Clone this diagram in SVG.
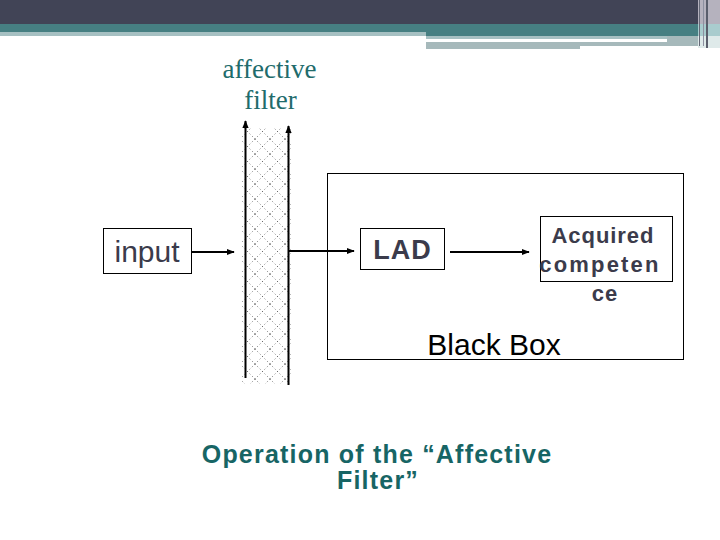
<svg xmlns="http://www.w3.org/2000/svg" width="720" height="540" viewBox="0 0 720 540">
<style>
.box{fill:#fff;stroke:#000;stroke-width:1}
.line{stroke:#000;stroke-width:2;fill:none}
.sans{font-family:"Liberation Sans",Arial,sans-serif}
.gray{fill:#3b3b4b}
</style>
<defs>
<marker id="ah" viewBox="0 0 10 10" refX="9" refY="5" markerWidth="4" markerHeight="4" orient="auto-start-reverse" markerUnits="strokeWidth">
<path d="M0,1 L10,5 L0,9 z" fill="#000"/>
</marker>
<pattern id="hatch" x="240" y="124" width="15" height="15" patternUnits="userSpaceOnUse">
<path d="M0,0 L15,15 M15,0 L0,15" stroke="#333" stroke-width="0.7" stroke-dasharray="1,2.4" fill="none"/>
</pattern>
</defs>
<rect width="720" height="540" fill="#fff"/>
<g id="header">
<rect x="0" y="0" width="720" height="24" fill="#414456"/>
<rect x="0" y="24" width="720" height="8" fill="#467f82"/>
<rect x="0" y="32" width="426" height="4" fill="#a6c0c2"/>
<rect x="426" y="32" width="272" height="4" fill="#467f82"/>
<rect x="426" y="36" width="272" height="3" fill="#a6c0c2"/>
<rect x="426" y="39" width="241" height="3" fill="#ffffff"/>
<rect x="426" y="42" width="154" height="7" fill="#a6b9bb"/>
<rect x="580" y="42" width="125" height="4" fill="#a6b9bb"/>
<rect x="667" y="36" width="38" height="10" fill="#a6b9bb"/>
<rect x="698" y="0" width="22" height="24" fill="#b5b2be"/>
<rect x="698" y="24" width="22" height="12" fill="#a9ccce"/>
<rect x="698" y="36" width="22" height="12" fill="#dfeaea"/>
<rect x="699" y="0" width="1" height="46" fill="#666a78"/>
<rect x="703" y="0" width="1" height="46" fill="#8d90a0"/>
<rect x="706" y="0" width="2" height="48" fill="#5a5e6c"/>
</g>
<g id="filter-label">
<text x="269.5" y="78" text-anchor="middle" font-family="'Liberation Serif','Times New Roman',serif" font-size="27" fill="#216b6b">affective</text>
<text x="270.5" y="109" text-anchor="middle" font-family="'Liberation Serif','Times New Roman',serif" font-size="27" fill="#216b6b">filter</text>
</g>
<g id="filter">
<rect x="241" y="128" width="50" height="256" fill="url(#hatch)"/>
<line class="line" x1="245.5" y1="378" x2="245.5" y2="121" marker-end="url(#ah)"/>
<line class="line" x1="288.5" y1="385" x2="288.5" y2="126" marker-end="url(#ah)"/>
</g>
<g id="blackbox">
<rect class="box" x="327.5" y="173.5" width="356" height="186" fill="none"/>
<text class="sans" x="494" y="355" text-anchor="middle" font-size="30" fill="#000">Black Box</text>
</g>
<g id="input">
<rect class="box" x="103.5" y="228.5" width="88" height="45"/>
<text class="sans gray" x="147" y="262" text-anchor="middle" font-size="30">input</text>
</g>
<g id="lad">
<rect class="box" x="360.5" y="228.5" width="84" height="41"/>
<text class="sans gray" x="402.5" y="259" text-anchor="middle" font-size="27" font-weight="bold" letter-spacing="1">LAD</text>
</g>
<g id="acquired">
<rect class="box" x="540.5" y="216.5" width="132" height="65"/>
<text class="sans gray" font-size="22" font-weight="bold" text-anchor="middle">
<tspan x="606" y="243" textLength="102" lengthAdjust="spacing">Acquired</tspan>
<tspan x="603" y="272" textLength="119" lengthAdjust="spacing">competen</tspan>
<tspan x="605" y="301" letter-spacing="1">ce</tspan>
</text>
</g>
<g id="connectors">
<line class="line" x1="192" y1="252" x2="234" y2="252" marker-end="url(#ah)"/>
<line class="line" x1="289" y1="251" x2="354" y2="251" marker-end="url(#ah)"/>
<line class="line" x1="450" y1="252" x2="529" y2="252" marker-end="url(#ah)"/>
</g>
<g id="title">
<text class="sans" x="377" y="463" text-anchor="middle" font-size="25" font-weight="bold" fill="#176565" letter-spacing="1.2">Operation of the “Affective</text>
<text class="sans" x="378" y="489" text-anchor="middle" font-size="25" font-weight="bold" fill="#176565" letter-spacing="1.2">Filter”</text>
</g>
</svg>
